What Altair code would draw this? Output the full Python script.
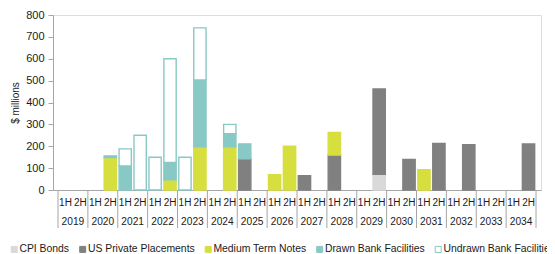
import altair as alt
import pandas as pd

years = list(range(2019, 2035))
halves = ["1H", "2H"]
series = ["CPI Bonds", "US Private Placements", "Medium Term Notes",
          "Drawn Bank Facilities", "Undrawn Bank Facilities"]
fills = ["#d9d9d9", "#808080", "#d7df3f", "#88c9c5", "#ffffff"]
strokes = ["#d9d9d9", "#808080", "#d7df3f", "#88c9c5", "#88c9c5"]

# values per half-year: 2019 1H, 2019 2H, 2020 1H, ... 2034 2H
cpi_bonds = [0, 0, 0, 0, 0, 0, 0, 0, 0, 0, 0, 0, 0, 0, 0, 0,
             0, 0, 0, 0, 0, 72, 0, 0, 0, 0, 0, 0, 0, 0, 0, 0]
us_pp = [0, 0, 0, 0, 0, 0, 0, 0, 0, 0, 0, 0, 143, 0, 0, 0,
         65, 0, 160, 0, 0, 390, 0, 140, 0, 213, 0, 207, 0, 0, 0, 210]
mtn = [0, 0, 0, 148, 0, 0, 0, 47, 0, 198, 0, 197, 0, 0, 70, 200,
       0, 0, 103, 0, 0, 0, 0, 0, 93, 0, 0, 0, 0, 0, 0, 0]
drawn = [0, 0, 0, 8, 110, 0, 0, 79, 0, 305, 0, 60, 68, 0, 0, 0,
         0, 0, 0, 0, 0, 0, 0, 0, 0, 0, 0, 0, 0, 0, 0, 0]
undrawn = [0, 0, 0, 0, 78, 250, 150, 474, 150, 238, 0, 43, 0, 0, 0, 0,
           0, 0, 0, 0, 0, 0, 0, 0, 0, 0, 0, 0, 0, 0, 0, 0]

all_vals = [cpi_bonds, us_pp, mtn, drawn, undrawn]

rows = []
for k, (name, vals) in enumerate(zip(series, all_vals)):
    for i, v in enumerate(vals):
        if v > 0:
            rows.append({"center": i + 0.5, "value": v, "series": name, "order": k})
df = pd.DataFrame(rows)

half_df = pd.DataFrame([{"center": i + 0.5, "label": halves[i % 2]} for i in range(2 * len(years))])
year_df = pd.DataFrame([{"center": 2 * j + 1, "label": str(y)} for j, y in enumerate(years)])
sep_df = pd.DataFrame([{"pos": 2 * j} for j in range(len(years) + 1)])

W, H = 488, 175
FONT = "Liberation Sans"
GRAY = "#a6a6a6"
TXT = "#1a1a1a"

xscale = alt.Scale(domain=[0, 2 * len(years)], nice=False, zero=False)

legend = alt.Legend(
    title=None, orient="none", direction="horizontal", columns=5,
    legendX=-44, legendY=229, padding=0,
    symbolType="square", symbolSize=36, symbolStrokeWidth=1,
    labelFontSize=10.4, labelFont=FONT, labelColor=TXT,
    labelOffset=0, columnPadding=7.5, labelLimit=300,
)

bars = alt.Chart(df).mark_bar(size=12.3, strokeWidth=1.4).encode(
    x=alt.X("center:Q", scale=xscale,
            axis=alt.Axis(labels=False, ticks=False, grid=False, title=None,
                          domainColor=GRAY, domainWidth=1)),
    y=alt.Y("value:Q", stack="zero",
            scale=alt.Scale(domain=[0, 800], nice=False),
            axis=alt.Axis(values=list(range(0, 801, 100)), grid=False,
                          title="$ millions", titleFont=FONT, titleFontSize=10,
                          titleFontWeight="normal", titleColor=TXT,
                          titleX=-38, titleY=H / 2, titleAngle=270,
                          titleAlign="center", titleBaseline="middle",
                          labelFont=FONT, labelFontSize=11, labelColor=TXT,
                          tickSize=5, tickColor=GRAY, domainColor=GRAY,
                          labelPadding=4)),
    fill=alt.Fill("series:N", scale=alt.Scale(domain=series, range=fills), legend=legend),
    stroke=alt.Stroke("series:N", scale=alt.Scale(domain=series, range=strokes), legend=legend),
    order=alt.Order("order:Q"),
)

half_text = alt.Chart(half_df).mark_text(
    font=FONT, fontSize=10, color=TXT, baseline="middle", align="center"
).encode(x=alt.X("center:Q", scale=xscale), y=alt.value(H + 13), text="label:N")

year_text = alt.Chart(year_df).mark_text(
    font=FONT, fontSize=10.2, color=TXT, baseline="middle", align="center"
).encode(x=alt.X("center:Q", scale=xscale), y=alt.value(H + 32), text="label:N")

seps = alt.Chart(sep_df).mark_rule(color=GRAY, strokeWidth=1).encode(
    x=alt.X("pos:Q", scale=xscale), y=alt.value(H), y2=alt.value(H + 38)
)

chart = alt.layer(bars, seps, half_text, year_text).properties(
    width=W, height=H,
    autosize=alt.AutoSizeParams(type="none"),
    padding={"left": 45, "top": 7, "right": 6, "bottom": 64},
).configure_view(stroke=None).configure(font=FONT)

chart.save("out.html", embed_options={"renderer": "svg", "actions": False})
